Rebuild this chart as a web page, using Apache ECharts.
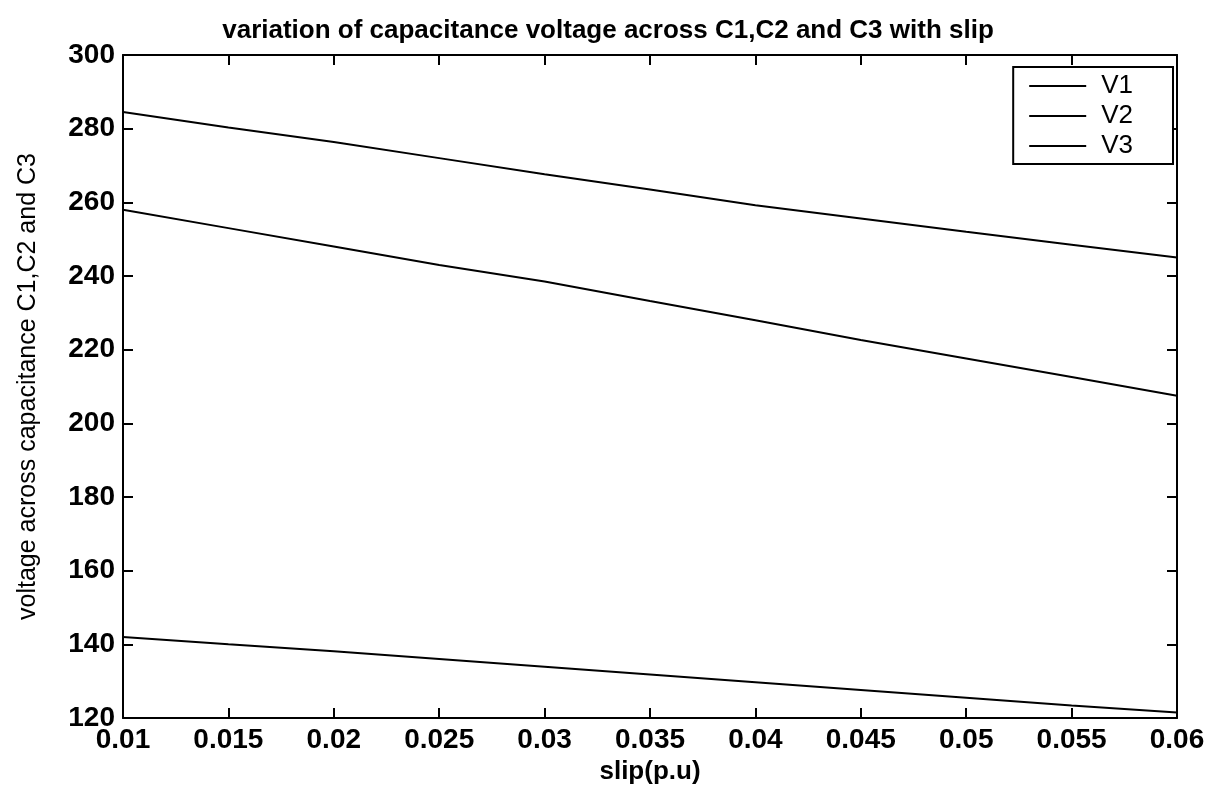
<!DOCTYPE html>
<html>
<head>
<meta charset="utf-8">
<script src="https://cdn.jsdelivr.net/npm/echarts@6/dist/echarts.min.js"></script>
<style>
  html, body { margin: 0; padding: 0; background: #fff; }
  #main { width: 1216px; height: 793px; }
</style>
</head>
<body>
<div id="main"></div>
<script>
  // slip values (p.u)
  var slip = [0.01, 0.015, 0.02, 0.025, 0.03, 0.035, 0.04, 0.045, 0.05, 0.055, 0.06];
  // voltage across each capacitance
  var v1 = [284.5, 280.3, 276.4, 272.0, 267.6, 263.5, 259.2, 255.6, 252.0, 248.5, 245.0];
  var v2 = [258.0, 253.0, 248.0, 243.0, 238.5, 233.2, 228.0, 222.6, 217.6, 212.6, 207.5];
  var v3 = [142.0, 140.0, 138.1, 136.0, 133.9, 131.8, 129.7, 127.6, 125.5, 123.4, 121.5];
  var names = ['V1', 'V2', 'V3'];

  var font = '"Liberation Sans", Arial, sans-serif';

  function pairs(ys) {
    return slip.map(function (x, i) { return [x, ys[i]]; });
  }

  var chart = echarts.init(document.getElementById('main'));

  var lineSeries = function (name, ys) {
    return {
      name: name,
      type: 'line',
      data: pairs(ys),
      symbol: 'none',
      lineStyle: { color: '#000', width: 2 },
      itemStyle: { color: '#000' },
      animation: false
    };
  };

  var option = {
    backgroundColor: '#fff',
    title: {
      text: 'variation of capacitance voltage across C1,C2 and C3 with slip',
      left: 'center',
      top: 13,
      textStyle: { fontFamily: font, fontSize: 26, fontWeight: 'bold', color: '#000' }
    },
    legend: {
      data: names,
      orient: 'vertical',
      right: 43,
      top: 67,
      icon: 'rect',
      padding: [6, 40, 5, 16],
      itemGap: 4,
      itemWidth: 57,
      itemHeight: 2,
      borderColor: '#000',
      borderWidth: 2,
      backgroundColor: '#fff',
      textStyle: { fontFamily: font, fontSize: 26, color: '#000', padding: [0, 0, 0, 10] }
    },
    grid: { left: 123, right: 39, top: 55, bottom: 75 },
    xAxis: [{
      type: 'value',
      min: 0.01, max: 0.06, interval: 0.005,
      name: 'slip(p.u)',
      nameLocation: 'middle',
      nameGap: 40,
      nameTextStyle: { fontFamily: font, fontSize: 26, fontWeight: 'bold', color: '#000' },
      axisLine: { lineStyle: { color: '#000', width: 2 } },
      axisTick: { inside: true, length: 10, lineStyle: { color: '#000', width: 2 } },
      axisLabel: {
        fontFamily: font, fontSize: 28, fontWeight: 'bold', color: '#000', margin: 8,
        formatter: function (v) { return String(parseFloat(v.toFixed(3))); }
      },
      splitLine: { show: false }
    }, {
      type: 'value',
      position: 'top',
      min: 0.01, max: 0.06, interval: 0.005,
      axisLine: { lineStyle: { color: '#000', width: 2 } },
      axisTick: { inside: true, length: 10, lineStyle: { color: '#000', width: 2 } },
      axisLabel: { show: false },
      splitLine: { show: false }
    }],
    yAxis: [{
      type: 'value',
      min: 120, max: 300, interval: 20,
      name: 'voltage across capacitance C1,C2 and C3',
      nameLocation: 'middle',
      nameGap: 82,
      nameTextStyle: { fontFamily: font, fontSize: 25, color: '#000' },
      axisLine: { show: true, lineStyle: { color: '#000', width: 2 } },
      axisTick: { show: true, inside: true, length: 10, lineStyle: { color: '#000', width: 2 } },
      axisLabel: { fontFamily: font, fontSize: 28, fontWeight: 'bold', color: '#000', margin: 8 },
      splitLine: { show: false }
    }, {
      type: 'value',
      position: 'right',
      min: 120, max: 300, interval: 20,
      axisLine: { show: true, lineStyle: { color: '#000', width: 2 } },
      axisTick: { show: true, inside: true, length: 10, lineStyle: { color: '#000', width: 2 } },
      axisLabel: { show: false },
      splitLine: { show: false }
    }],
    series: [
      lineSeries(names[0], v1),
      lineSeries(names[1], v2),
      lineSeries(names[2], v3)
    ]
  };

  chart.setOption(option);

  window.addEventListener('resize', function () {
    chart.resize();
  });
</script>
</body>
</html>
